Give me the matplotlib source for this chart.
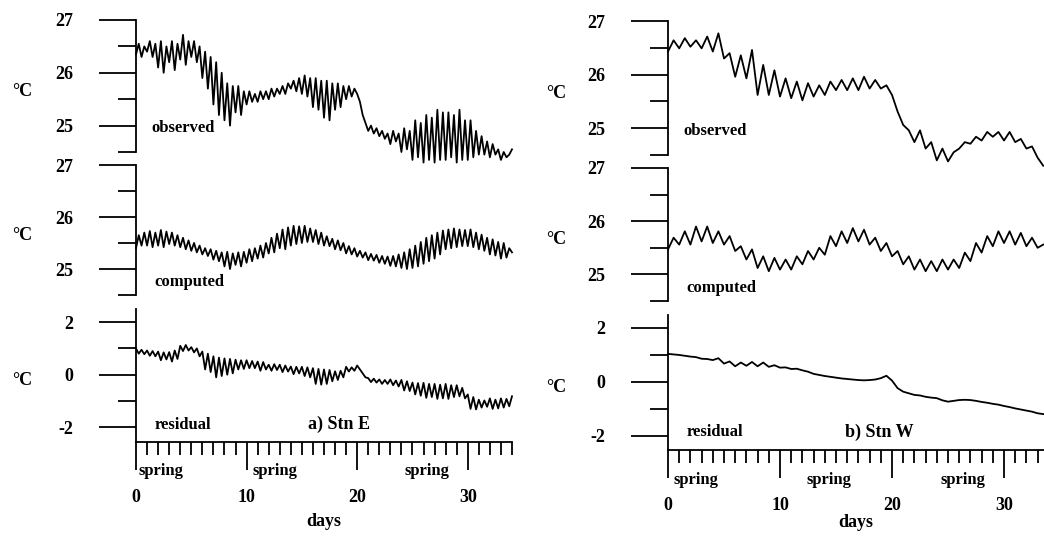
import numpy as np
import matplotlib.pyplot as plt
from matplotlib.ticker import FixedLocator, MultipleLocator

plt.rcParams['font.family'] = ['Liberation Serif', 'DejaVu Serif']
plt.rcParams['font.weight'] = 'bold'
plt.rcParams['axes.labelweight'] = 'bold'
plt.rcParams['axes.unicode_minus'] = False

# ---- Stn E (quarter-day samples, day 0 .. 34) ----
days_E = np.arange(0, 34.01, 0.25)
obs_E = [
    26.35, 26.55, 26.30, 26.50,  26.40, 26.60, 26.30, 26.55,  26.10, 26.60, 26.00, 26.50,
    26.20, 26.60, 26.05, 26.55,  26.25, 26.72, 26.15, 26.60,  26.30, 26.60, 26.20, 26.50,
    25.90, 26.40, 25.70, 26.30,  25.40, 26.20, 25.20, 26.00,  25.10, 25.80, 25.00, 25.75,
    25.25, 25.75, 25.20, 25.65,  25.40, 25.65, 25.45, 25.60,  25.45, 25.65, 25.50, 25.65,
    25.50, 25.70, 25.55, 25.70,  25.60, 25.75, 25.60, 25.80,  25.70, 25.85, 25.65, 25.90,
    25.60, 25.95, 25.55, 25.90,  25.35, 25.90, 25.30, 25.85,  25.15, 25.85, 25.10, 25.80,
    25.30, 25.80, 25.35, 25.75,  25.50, 25.75, 25.55, 25.70,  25.60, 25.45, 25.20, 25.05,
    24.90, 25.00, 24.85, 24.95,  24.80, 24.90, 24.75, 24.85,  24.65, 24.90, 24.70, 24.85,
    24.50, 24.95, 24.55, 24.90,  24.35, 25.10, 24.40, 25.05,  24.30, 25.20, 24.35, 25.15,
    24.30, 25.30, 24.35, 25.25,  24.35, 25.25, 24.40, 25.20,  24.30, 25.30, 24.35, 25.10,
    24.35, 25.10, 24.40, 24.90,  24.45, 24.80, 24.45, 24.70,  24.40, 24.65, 24.45, 24.55,
    24.35, 24.50, 24.40, 24.45,  24.55,
]
comp_E = [
    25.40, 25.65, 25.45, 25.70,  25.45, 25.73, 25.42, 25.70,  25.45, 25.75, 25.42, 25.72,
    25.48, 25.70, 25.45, 25.65,  25.42, 25.60, 25.38, 25.55,  25.35, 25.50, 25.32, 25.45,
    25.28, 25.40, 25.25, 25.38,  25.18, 25.35, 25.15, 25.32,  25.05, 25.33, 25.00, 25.30,
    25.08, 25.32, 25.05, 25.33,  25.12, 25.38, 25.15, 25.40,  25.20, 25.45, 25.22, 25.50,
    25.30, 25.60, 25.32, 25.68,  25.40, 25.76, 25.38, 25.80,  25.45, 25.83, 25.48, 25.82,
    25.50, 25.83, 25.52, 25.78,  25.52, 25.75, 25.48, 25.70,  25.45, 25.63, 25.44, 25.58,
    25.38, 25.55, 25.36, 25.50,  25.30, 25.44, 25.28, 25.40,  25.24, 25.35, 25.22, 25.32,
    25.17, 25.29, 25.16, 25.27,  25.12, 25.25, 25.10, 25.24,  25.06, 25.25, 25.05, 25.28,
    25.02, 25.32, 25.00, 25.38,  25.02, 25.45, 25.05, 25.52,  25.10, 25.60, 25.15, 25.65,
    25.20, 25.70, 25.28, 25.74,  25.38, 25.76, 25.40, 25.78,  25.42, 25.76, 25.44, 25.75,
    25.44, 25.76, 25.42, 25.70,  25.38, 25.66, 25.35, 25.60,  25.28, 25.57, 25.26, 25.52,
    25.20, 25.50, 25.22, 25.40,  25.32,
]
res_E = [
    1.00, 0.80, 0.95, 0.78,  0.92, 0.72, 0.90, 0.70,  0.88, 0.55, 0.85, 0.58,
    0.86, 0.50, 0.92, 0.60,  1.10, 0.90, 1.13, 0.92,  1.05, 0.85, 1.00, 0.70,
    0.88, 0.20, 0.80, 0.10,  0.70, -0.10, 0.65, -0.05,  0.62, 0.00, 0.60, 0.05,
    0.57, 0.20, 0.55, 0.22,  0.55, 0.25, 0.52, 0.25,  0.50, 0.15, 0.48, 0.20,
    0.38, 0.15, 0.40, 0.18,  0.38, 0.10, 0.35, 0.12,  0.31, 0.02, 0.30, 0.05,
    0.30, -0.05, 0.28, -0.10,  0.25, -0.35, 0.22, -0.38,  0.20, -0.35, 0.18, -0.25,
    0.13, -0.20, 0.15, -0.10,  0.30, 0.12, 0.28, 0.15,  0.35, 0.20, 0.05, -0.10,
    -0.13, -0.28, -0.15, -0.30,  -0.18, -0.35, -0.20, -0.35,  -0.18, -0.40, -0.22, -0.45,
    -0.20, -0.60, -0.25, -0.62,  -0.30, -0.75, -0.32, -0.80,  -0.31, -0.88, -0.35, -0.85,
    -0.35, -0.92, -0.38, -0.90,  -0.35, -0.92, -0.40, -0.85,  -0.40, -0.82, -0.50, -0.90,
    -0.75, -1.30, -0.85, -1.32,  -0.95, -1.25, -0.98, -1.22,  -0.90, -1.30, -0.95, -1.28,
    -0.90, -1.25, -0.92, -1.20,  -0.82,
]

# ---- Stn W (half-day samples, day 0 .. 33.5) ----
days_W = np.arange(0, 33.51, 0.5)
obs_W = [
    26.43, 26.64, 26.49, 26.68, 26.52, 26.64, 26.49, 26.71, 26.43, 26.77,
    26.30, 26.40, 25.96, 26.36, 25.93, 26.46, 25.62, 26.18, 25.62, 26.08,
    25.59, 25.93, 25.56, 25.87, 25.52, 25.84, 25.59, 25.80, 25.62, 25.87,
    25.71, 25.90, 25.71, 25.93, 25.71, 25.96, 25.74, 25.90, 25.74, 25.80,
    25.62, 25.31, 25.06, 24.96, 24.74, 24.96, 24.62, 24.74, 24.40, 24.62,
    24.38, 24.55, 24.62, 24.74, 24.71, 24.84, 24.77, 24.93, 24.84, 24.93,
    24.77, 24.93, 24.74, 24.80, 24.62, 24.66, 24.45, 24.30,
]
comp_W = [
    25.47, 25.69, 25.56, 25.81, 25.56, 25.90, 25.62, 25.90, 25.59, 25.81,
    25.56, 25.72, 25.44, 25.53, 25.28, 25.47, 25.12, 25.34, 25.06, 25.31,
    25.09, 25.28, 25.09, 25.34, 25.19, 25.44, 25.28, 25.50, 25.37, 25.72,
    25.53, 25.81, 25.59, 25.87, 25.62, 25.84, 25.56, 25.69, 25.44, 25.59,
    25.34, 25.44, 25.19, 25.34, 25.09, 25.28, 25.06, 25.25, 25.06, 25.28,
    25.09, 25.28, 25.12, 25.41, 25.25, 25.59, 25.41, 25.72, 25.53, 25.81,
    25.59, 25.81, 25.56, 25.78, 25.53, 25.69, 25.50, 25.56,
]
res_W = [
    1.04, 1.02, 1.00, 0.97, 0.94, 0.92, 0.86, 0.85, 0.81, 0.88,
    0.68, 0.76, 0.58, 0.72, 0.60, 0.74, 0.58, 0.72, 0.56, 0.62,
    0.53, 0.54, 0.48, 0.49, 0.43, 0.38, 0.30, 0.26, 0.22, 0.19,
    0.16, 0.13, 0.11, 0.09, 0.07, 0.06, 0.07, 0.09, 0.14, 0.23,
    0.05, -0.23, -0.36, -0.42, -0.48, -0.50, -0.55, -0.58, -0.60, -0.68,
    -0.73, -0.70, -0.67, -0.66, -0.67, -0.70, -0.74, -0.77, -0.81, -0.84,
    -0.89, -0.93, -0.98, -1.02, -1.06, -1.10, -1.16, -1.19,
]

spring_E = [0.2, 10.5, 24.3]
spring_W = [0.45, 12.4, 24.3]

W, H = 1044, 536
fig = plt.figure(figsize=(W / 100, H / 100), dpi=100)


def px_axes(x0, x1, ytop, ybot):
    return fig.add_axes([x0 / W, 1 - ybot / H, (x1 - x0) / W, (ybot - ytop) / H])


def style_temp(ax, xmax):
    ax.set_xlim(0, xmax)
    ax.set_ylim(24.5, 27)
    for s in ['top', 'right', 'bottom']:
        ax.spines[s].set_visible(False)
    ax.spines['left'].set_linewidth(1.3)
    ax.xaxis.set_visible(False)
    ax.yaxis.set_major_locator(FixedLocator([25, 26, 27]))
    ax.yaxis.set_minor_locator(FixedLocator([24.5, 25.5, 26.5]))
    ax.tick_params(axis='y', which='major', direction='out', length=27, width=1.3,
                   pad=18, labelsize=13)
    ax.tick_params(axis='y', which='minor', direction='out', length=13, width=1.3)
    ax.patch.set_alpha(0)


def style_res(ax, xmax, ylim):
    ax.set_xlim(0, xmax)
    ax.set_ylim(*ylim)
    for s in ['top', 'right']:
        ax.spines[s].set_visible(False)
    ax.spines['left'].set_linewidth(1.3)
    ax.spines['bottom'].set_linewidth(1.3)
    ax.yaxis.set_major_locator(FixedLocator([-2, 0, 2]))
    ax.yaxis.set_minor_locator(FixedLocator([-1, 1]))
    ax.tick_params(axis='y', which='major', direction='out', length=27, width=1.3,
                   pad=18, labelsize=13)
    ax.tick_params(axis='y', which='minor', direction='out', length=13, width=1.3)
    ax.xaxis.set_major_locator(MultipleLocator(10))
    ax.xaxis.set_minor_locator(MultipleLocator(1))
    ax.tick_params(axis='x', which='major', direction='out', length=20, width=1.3,
                   pad=14, labelsize=13)
    ax.tick_params(axis='x', which='minor', direction='out', length=9, width=1.3)
    ax.patch.set_alpha(0)


panels = [
    dict(x0=136, x1=512, xmax=34.0, rows=[(20, 152), (165, 295), (309, 442)],
         res_ylim=(-2.56, 2.5), days=days_E, obs=obs_E, comp=comp_E, res=res_E,
         spring=spring_E, tag='a) Stn E', degx=22, tagx=308, lpad=5),
    dict(x0=668, x1=1044, xmax=33.57, rows=[(21, 155), (168, 301), (315, 450)],
         res_ylim=(-2.52, 2.48), days=days_W, obs=obs_W, comp=comp_W, res=res_W,
         spring=spring_W, tag='b) Stn W', degx=556, tagx=845, lpad=0),
]

for p in panels:
    (t0, b0), (t1, b1), (t2, b2) = p['rows']
    ax_o = px_axes(p['x0'], p['x1'], t0, b0)
    ax_c = px_axes(p['x0'], p['x1'], t1, b1)
    ax_r = px_axes(p['x0'], p['x1'], t2, b2)
    style_temp(ax_o, p['xmax'])
    style_temp(ax_c, p['xmax'])
    style_res(ax_r, p['xmax'], p['res_ylim'])

    ax_o.plot(p['days'], p['obs'], color='black', lw=1.3, clip_on=False)
    ax_c.plot(p['days'], p['comp'], color='black', lw=1.3, clip_on=False)
    ax_r.plot(p['days'], p['res'], color='black', lw=1.3, clip_on=False)

    # series names
    ax_o.text(0.04, 0.18, 'observed', transform=ax_o.transAxes, fontsize=12, va='center')
    ax_c.text(0.05, 0.10, 'computed', transform=ax_c.transAxes, fontsize=12, va='center')
    ax_r.text(0.05, 0.13, 'residual', transform=ax_r.transAxes, fontsize=12, va='center')
    ax_r.text((p['tagx'] - p['x0']) / (p['x1'] - p['x0']), 0.13, p['tag'],
              transform=ax_r.transAxes, fontsize=13, va='center')

    # spring-tide markers under the day axis
    for d in p['spring']:
        ax_r.text(d, -0.22, 'spring', transform=ax_r.get_xaxis_transform(),
                  fontsize=12, va='center', ha='left')
    ax_r.set_xlabel('days', fontsize=13, labelpad=p['lpad'])

    # degree labels
    for top, bot in p['rows']:
        fig.text(p['degx'] / W, 1 - (top + (bot - top) * 0.54) / H, '°C',
                 fontsize=13, ha='center', va='center')

fig.savefig('out.png', dpi=100)
